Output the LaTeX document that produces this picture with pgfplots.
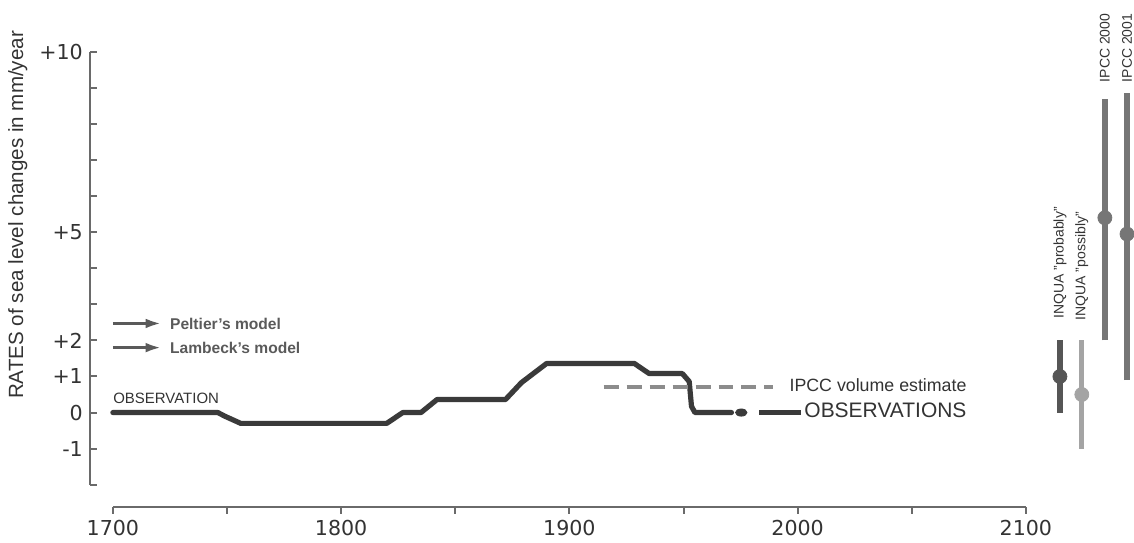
\documentclass[border=0pt]{standalone}
\usepackage{fontspec}
\setmainfont{Liberation Sans}
\newfontfamily\dejavu{DejaVu Sans}
\usepackage{pgfplots}
\pgfplotsset{compat=1.18}
\usetikzlibrary{arrows.meta}
\definecolor{curve}{HTML}{3A3A3A}
\definecolor{axisgray}{HTML}{6A6A6A}
\definecolor{txt}{HTML}{333333}
\definecolor{leg}{HTML}{5A5A5A}
\definecolor{dashgray}{HTML}{8C8C8C}
\definecolor{probably}{HTML}{565656}
\definecolor{possibly}{HTML}{A4A4A4}
\definecolor{ipcc}{HTML}{767676}
\begin{document}
\begin{tikzpicture}
\begin{axis}[
  scale only axis, width=457pt, height=216.6pt,
  xmin=1700, xmax=2100, ymin=-2, ymax=10,
  axis lines=left,
  axis line style={-, draw=axisgray, line width=1pt},
  axis x line shift=11pt, axis y line shift=11.5pt,
  xtick={1700,1750,...,2100}, xticklabels={1700,,1800,,1900,,2000,,2100},
  ytick={-2,-1,...,10}, yticklabels={,-1,0,+1,+2,,,+5,,,,,+10},
  xtick align=outside, ytick align=inside,
  major tick length=3.5pt,
  tick style={draw=axisgray, line width=1pt},
  ticklabel style={font=\dejavu\fontsize{10.3}{12}\selectfont, text=txt},
  clip=false,
]
% bounding frame of the whole picture
\path (axis cs:1650.55,-3.546) rectangle (axis cs:2146.8,11.44);

% observations curve
\addplot[curve, line width=2.6pt, line join=round, line cap=round] coordinates {
  (1700,0) (1746,0) (1749,-0.1) (1756,-0.3) (1820,-0.3) (1827,0) (1835,0)
  (1842,0.36) (1872,0.36) (1879,0.83) (1890,1.36) (1928.5,1.36) (1931,1.25)
  (1935,1.08) (1949.5,1.08) (1952.5,0.86) (1953.5,0.17) (1955,0) (1971,0)
};
\addplot[curve, only marks, mark=*, mark size=1.8pt, mark options={xscale=1.6}] coordinates {(1975.3,0)};
\addplot[curve, line width=2.6pt] coordinates {(1983.2,0) (2001.5,0)};

% IPCC volume estimate
\addplot[dashgray, line width=2pt, dash pattern=on 7.5pt off 4pt] coordinates {(1915,0.7) (1989,0.7)};

% right-hand ranges
\addplot[probably, line width=3.4pt] coordinates {(2114.9,0) (2114.9,2.0)};
\addplot[probably, only marks, mark=*, mark size=3.5pt] coordinates {(2114.9,1.0)};
\addplot[possibly, line width=2.6pt] coordinates {(2124.5,-1.0) (2124.5,2.0)};
\addplot[possibly, only marks, mark=*, mark size=3.5pt] coordinates {(2124.5,0.5)};
\addplot[ipcc, line width=3pt] coordinates {(2134.6,2.0) (2134.6,8.7)};
\addplot[ipcc, only marks, mark=*, mark size=3.5pt] coordinates {(2134.6,5.4)};
\addplot[ipcc, line width=3pt] coordinates {(2144.3,0.9) (2144.3,8.86)};
\addplot[ipcc, only marks, mark=*, mark size=3.5pt] coordinates {(2144.3,4.95)};

% labels
\node[rotate=90, font=\fontsize{10.3}{12}\selectfont, text=txt] at (axis cs:1658.4,5.48) {RATES of sea level changes in mm/year};

\draw[leg, line width=1.6pt, -{Latex[length=8pt,width=4.8pt]}] (axis cs:1700,2.47) -- (axis cs:1721.4,2.47);
\draw[leg, line width=1.6pt, -{Latex[length=8pt,width=4.8pt]}] (axis cs:1700,1.80) -- (axis cs:1721.4,1.80);
\node[anchor=west, text=leg, font=\bfseries\fontsize{7.8}{9}\selectfont, inner sep=0pt] at (axis cs:1724.9,2.47) {Peltier's model};
\node[anchor=west, text=leg, font=\bfseries\fontsize{7.8}{9}\selectfont, inner sep=0pt] at (axis cs:1724.9,1.80) {Lambeck's model};

\node[anchor=west, text=txt, font=\fontsize{7.5}{9}\selectfont, inner sep=0pt] at (axis cs:1700,0.39) {OBSERVATION};
\node[anchor=west, text=txt, font=\fontsize{8.9}{10}\selectfont, inner sep=0pt] at (axis cs:1996.3,0.75) {IPCC volume estimate};
\node[anchor=west, text=txt, font=\fontsize{10.5}{12}\selectfont, inner sep=0pt] at (axis cs:2002.8,0.05) {OBSERVATIONS};

\node[rotate=90, anchor=west, text=txt, font=\fontsize{7}{8}\selectfont, inner sep=0pt] at (axis cs:2114.9,2.6) {INQUA "probably"};
\node[rotate=90, anchor=west, text=txt, font=\fontsize{7}{8}\selectfont, inner sep=0pt] at (axis cs:2124.5,2.55) {INQUA "possibly"};
\node[rotate=90, anchor=west, text=txt, font=\fontsize{7}{8}\selectfont, inner sep=0pt] at (axis cs:2134.6,9.15) {IPCC 2000};
\node[rotate=90, anchor=west, text=txt, font=\fontsize{7}{8}\selectfont, inner sep=0pt] at (axis cs:2144.3,9.15) {IPCC 2001};
\end{axis}
\end{tikzpicture}
\end{document}
